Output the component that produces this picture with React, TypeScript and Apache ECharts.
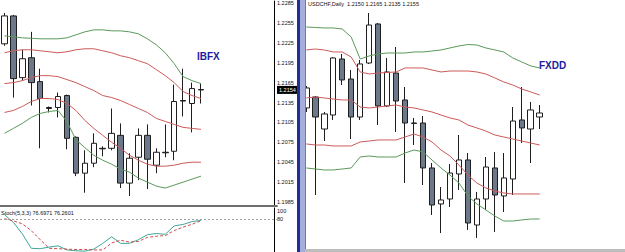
import React, { useEffect, useRef } from "react";
import * as echarts from "echarts";

// ---------- Left panel (IBFX) ----------
const leftCategories = Array.from({ length: 31 }, (_, i) => `L${i + 1}`);
// [open, close, low, high]
const leftCandles = [
  [1.22235, 1.22655, 1.22205, 1.2270],
  [1.22655, 1.2171, 1.21425, 1.2267],
  [1.21725, 1.2201, 1.2168, 1.22145],
  [1.22025, 1.2165, 1.21305, 1.22415],
  [1.21665, 1.2141, 1.2066, 1.2186],
  [1.21275, 1.2126, 1.2120, 1.2129],
  [1.21275, 1.2144, 1.21125, 1.2150],
  [1.21455, 1.2081, 1.20645, 1.2147],
  [1.20825, 1.20285, 1.2024, 1.2084],
  [1.20285, 1.20435, 1.1999, 1.2063],
  [1.20435, 1.20735, 1.20375, 1.20885],
  [1.2066, 1.20652, 1.2054, 1.2069],
  [1.2066, 1.20885, 1.2063, 1.2126],
  [1.20855, 1.20135, 1.2006, 1.21035],
  [1.20135, 1.2051, 1.1994, 1.20585],
  [1.20525, 1.20855, 1.2018, 1.2096],
  [1.20855, 1.20495, 1.20045, 1.2102],
  [1.20405, 1.2060, 1.20285, 1.2066],
  [1.2060, 1.20592, 1.20525, 1.2102],
  [1.20615, 1.21365, 1.2048, 1.2162],
  [1.2138, 1.21372, 1.2114, 1.2186],
  [1.21335, 1.2156, 1.2090, 1.2165],
  [1.21545, 1.2154, 1.21335, 1.21635],
];
const leftUpperOuter = [1.22355, 1.2234, 1.22325, 1.22318, 1.2231, 1.2231, 1.2231, 1.22325, 1.2237, 1.22415, 1.22445, 1.22445, 1.2243, 1.2243, 1.22415, 1.22385, 1.2231, 1.2222, 1.221, 1.21935, 1.2174, 1.2168, 1.21635];
const leftUpperInner = [1.221, 1.2213, 1.22145, 1.22145, 1.2213, 1.22115, 1.221, 1.22115, 1.22145, 1.2216, 1.2216, 1.2213, 1.221, 1.22055, 1.22025, 1.2198, 1.21935, 1.21845, 1.21755, 1.2165, 1.21515, 1.21455, 1.2141];
const leftMiddle = [1.21635, 1.2165, 1.2168, 1.21725, 1.21755, 1.21755, 1.2174, 1.21695, 1.2165, 1.2159, 1.2153, 1.21455, 1.21425, 1.2138, 1.2132, 1.2126, 1.212, 1.2111, 1.21065, 1.2102, 1.20975, 1.2096, 1.20945];
const leftLowerInner = [1.212, 1.2123, 1.2129, 1.21365, 1.2141, 1.2141, 1.21395, 1.21335, 1.2123, 1.2108, 1.2096, 1.20855, 1.2075, 1.2066, 1.20555, 1.2048, 1.2042, 1.2039, 1.2039, 1.20405, 1.20435, 1.2045, 1.2045];
const leftLowerOuter = [1.20885, 1.2096, 1.21035, 1.21125, 1.21185, 1.21215, 1.2123, 1.2106, 1.2079, 1.2067, 1.20555, 1.2048, 1.2042, 1.20345, 1.203, 1.2021, 1.2015, 1.2009, 1.2006, 1.20105, 1.2015, 1.20195, 1.2024];
const leftPriceTicks = [1.1985, 1.2015, 1.2045, 1.2075, 1.2105, 1.2135, 1.2165, 1.2195, 1.2225, 1.2255, 1.2285];
const leftLastPrice = 1.2154;

const stochMain = [90.7, 72, 44, 9, 8, 12, 15, 5, 3, 2, 7, 21, 37, 21, 21, 30, 42, 45, 43, 63.5, 67, 74, 76.6971];
const stochSignal = [81, 75.6, 68.6, 52, 30, 9, 8, 7, 6, 6, 5, 5, 22, 28.6, 24, 25.6, 35.6, 38.4, 40, 52, 60.5, 67.4, 76.2601];
const stochTicks = [80, 100];
const stochLevel = 80;

// ---------- Right panel (FXDD) ----------
const rightCategories = Array.from({ length: 36 }, (_, i) => `R${i + 1}`);
const rightCandles = [
  [1.21613, 1.21863, 1.21563, 1.21888],
  [1.2175, 1.215, 1.20525, 1.21763],
  [1.2135, 1.21538, 1.212, 1.21563],
  [1.21525, 1.22238, 1.21463, 1.2225],
  [1.22225, 1.21963, 1.219, 1.22288],
  [1.21975, 1.215, 1.21225, 1.22088],
  [1.215, 1.22163, 1.21463, 1.22213],
  [1.22175, 1.2265, 1.22163, 1.228],
  [1.22663, 1.21638, 1.214, 1.22675],
  [1.21638, 1.22063, 1.21625, 1.22238],
  [1.2205, 1.217, 1.21313, 1.22375],
  [1.21713, 1.21425, 1.20675, 1.21875],
  [1.21425, 1.2142, 1.2115, 1.21488],
  [1.21425, 1.20863, 1.2065, 1.21513],
  [1.20863, 1.204, 1.20275, 1.20925],
  [1.20413, 1.20463, 1.2005, 1.20625],
  [1.20475, 1.208, 1.20375, 1.20913],
  [1.20788, 1.20963, 1.20588, 1.21275],
  [1.20963, 1.20175, 1.20088, 1.2105],
  [1.2015, 1.20475, 1.19988, 1.20563],
  [1.20475, 1.20875, 1.20338, 1.21],
  [1.20863, 1.20525, 1.20063, 1.21063],
  [1.20513, 1.20738, 1.20313, 1.2105],
  [1.20725, 1.2145, 1.20525, 1.21625],
  [1.21463, 1.21363, 1.21175, 1.21875],
  [1.2135, 1.21588, 1.20925, 1.21688],
  [1.215, 1.2155, 1.2135, 1.2165],
];
const rightUpperOuter = [1.22625, 1.22619, 1.22613, 1.22613, 1.226, 1.225, 1.22225, 1.22263, 1.22288, 1.223, 1.223, 1.223, 1.22313, 1.22313, 1.22325, 1.22338, 1.22363, 1.22388, 1.22406, 1.224, 1.22363, 1.22338, 1.22313, 1.22238, 1.22188, 1.22138, 1.22113];
const rightUpperInner = [1.22338, 1.2235, 1.22338, 1.22313, 1.22313, 1.2225, 1.22063, 1.22038, 1.2205, 1.22056, 1.22063, 1.22113, 1.22113, 1.22113, 1.22088, 1.22063, 1.22075, 1.22075, 1.22075, 1.22063, 1.22038, 1.21988, 1.21938, 1.219, 1.2185, 1.21813, 1.21775];
const rightMiddle = [1.21738, 1.2175, 1.21738, 1.21725, 1.21713, 1.21713, 1.21625, 1.21613, 1.21625, 1.21638, 1.2165, 1.21625, 1.21613, 1.21588, 1.21563, 1.21525, 1.21488, 1.21463, 1.214, 1.21363, 1.21325, 1.21275, 1.2125, 1.21225, 1.212, 1.21175, 1.2115];
const rightLowerInner = [1.21163, 1.2115, 1.2115, 1.21138, 1.21138, 1.21138, 1.21188, 1.212, 1.21213, 1.21213, 1.21213, 1.2125, 1.21288, 1.2125, 1.21188, 1.21088, 1.21013, 1.209, 1.20775, 1.20675, 1.20613, 1.20575, 1.2055, 1.20538, 1.20538, 1.20538, 1.20538];
const rightLowerOuter = [1.20863, 1.2085, 1.20838, 1.20838, 1.2085, 1.20863, 1.21, 1.21013, 1.21, 1.21, 1.21, 1.2105, 1.21088, 1.21063, 1.20963, 1.20863, 1.20775, 1.20675, 1.20513, 1.20413, 1.20338, 1.20263, 1.202, 1.202, 1.20213, 1.20225, 1.20225];

const FONT = "Liberation Sans, Arial, sans-serif";
const GREEN = "#5a9a5a";
const RED = "#cc5a5a";
const BEAR = "#6c798b";
const EDGE = "#1e1e1e";

function bandLine(data: number[], color: string, xi: number, yi: number) {
  return {
    type: "line",
    xAxisIndex: xi,
    yAxisIndex: yi,
    data,
    symbol: "none",
    silent: true,
    z: 3,
    lineStyle: { color, width: 1 },
  };
}

function candles(data: number[][], xi: number, yi: number) {
  return {
    type: "candlestick",
    xAxisIndex: xi,
    yAxisIndex: yi,
    data,
    barWidth: 6,
    silent: true,
    z: 2,
    itemStyle: {
      color: "#ffffff",
      color0: BEAR,
      borderColor: EDGE,
      borderColor0: EDGE,
      borderColorDoji: EDGE,
      borderWidth: 1,
    },
  };
}

export default function App() {
  const ref = useRef<HTMLDivElement>(null);
  useEffect(() => {
    const chart = echarts.init(ref.current!, null, { renderer: "svg" });
    const option: any = {
      animation: false,
      backgroundColor: "#ffffff",
      textStyle: { fontFamily: FONT },
      grid: [
        { left: -5.35, top: 0, width: 282.26, height: 206 },
        { left: -5.35, top: 208, width: 282.26, height: 46 },
        { left: 301.83, top: 0, width: 329.04, height: 252 },
      ],
      xAxis: [
        {
          type: "category", gridIndex: 0, data: leftCategories, boundaryGap: true,
          axisLine: { show: true, lineStyle: { color: "#6e6e6e", width: 2 } },
          axisTick: { show: false }, axisLabel: { show: false }, splitLine: { show: false },
        },
        { type: "category", gridIndex: 1, data: leftCategories, boundaryGap: true, show: false },
        { type: "category", gridIndex: 2, data: rightCategories, boundaryGap: true, show: false },
      ],
      yAxis: [
        {
          type: "value", gridIndex: 0, position: "right", offset: -2.9,
          min: 1.1979, max: 1.2288, scale: true,
          axisLine: { show: true, lineStyle: { color: "#000", width: 1 } },
          axisTick: { show: false },
          splitLine: { show: false },
          axisLabel: {
            customValues: [...leftPriceTicks, leftLastPrice],
            margin: 3,
            fontSize: 5.5,
            color: "#111",
            fontFamily: FONT,
            formatter: (v: number) =>
              Math.abs(v - leftLastPrice) < 1e-7 ? `{tag|${v.toFixed(4)}}` : `{n|${v.toFixed(4)}}`,
            rich: {
              n: { fontSize: 5.5, color: "#111", fontFamily: FONT },
              tag: { fontSize: 5.5, color: "#fff", backgroundColor: "#000", padding: [1, 2, 1, 2], fontFamily: FONT },
            },
          },
        },
        {
          type: "value", gridIndex: 1, position: "right", offset: -2.9,
          min: 0, max: 107,
          axisLine: { show: true, lineStyle: { color: "#000", width: 1 } },
          axisTick: { show: false },
          splitLine: { show: false },
          axisLabel: {
            customValues: stochTicks, margin: 3, fontSize: 5.5, color: "#111", fontFamily: FONT,
            formatter: (v: number) => String(v),
          },
        },
        { type: "value", gridIndex: 2, min: 1.198125, max: 1.229625, show: false, scale: true },
      ],
      series: [
        candles(leftCandles, 0, 0),
        bandLine(leftUpperOuter, GREEN, 0, 0),
        bandLine(leftUpperInner, RED, 0, 0),
        bandLine(leftMiddle, RED, 0, 0),
        bandLine(leftLowerInner, RED, 0, 0),
        bandLine(leftLowerOuter, GREEN, 0, 0),
        {
          type: "line", xAxisIndex: 1, yAxisIndex: 1, data: stochMain, symbol: "none", silent: true,
          lineStyle: { color: "#3fa59b", width: 1 },
          markLine: {
            silent: true, symbol: ["none", "none"], label: { show: false },
            lineStyle: { color: "#a0a0a0", width: 1, type: [2, 2] },
            data: [{ yAxis: stochLevel }],
          },
        },
        {
          type: "line", xAxisIndex: 1, yAxisIndex: 1, data: stochSignal, symbol: "none", silent: true,
          lineStyle: { color: "#d04848", width: 1, type: [3, 2] },
        },
        candles(rightCandles, 2, 2),
        bandLine(rightUpperOuter, GREEN, 2, 2),
        bandLine(rightUpperInner, RED, 2, 2),
        bandLine(rightMiddle, RED, 2, 2),
        bandLine(rightLowerInner, RED, 2, 2),
        bandLine(rightLowerOuter, GREEN, 2, 2),
      ],
      graphic: [
        { type: "rect", z: 100, shape: { x: 297, y: 0, width: 3, height: 252 }, style: { fill: "#1f2f96" } },
        { type: "rect", z: 100, shape: { x: 300, y: 0, width: 5, height: 252 }, style: { fill: "#a6aedb" } },
        { type: "rect", z: 100, shape: { x: 305, y: 0, width: 1, height: 252 }, style: { fill: "#7c7c7c" } },
        { type: "rect", z: 100, shape: { x: 305, y: 249, width: 320, height: 3 }, style: { fill: "#bdbdbd" } },
        {
          type: "text", z: 101, x: 308, y: 4,
          style: { text: "USDCHF,Daily  1.2150 1.2165 1.2135 1.2155", fill: "#111", fontSize: 5.5, fontFamily: FONT, verticalAlign: "middle" },
        },
        {
          type: "text", z: 101, x: 1, y: 213,
          style: { text: "Stoch(5,3,3) 76.6971 76.2601", fill: "#111", fontSize: 5.5, fontFamily: FONT, verticalAlign: "middle" },
        },
        {
          type: "text", z: 101, x: 197, y: 56,
          style: { text: "IBFX", fill: "#1c1ca0", fontSize: 10, fontWeight: "bold", fontFamily: FONT, verticalAlign: "middle" },
        },
        {
          type: "text", z: 101, x: 539, y: 65,
          style: { text: "FXDD", fill: "#1c1ca0", fontSize: 10, fontWeight: "bold", fontFamily: FONT, verticalAlign: "middle" },
        },
      ],
    };
    chart.setOption(option);
    return () => chart.dispose();
  }, []);
  return (
    <div
      ref={ref}
      style={{ position: "absolute", left: 0, top: 0, width: 625, height: 252, background: "#fff" }}
    />
  );
}
